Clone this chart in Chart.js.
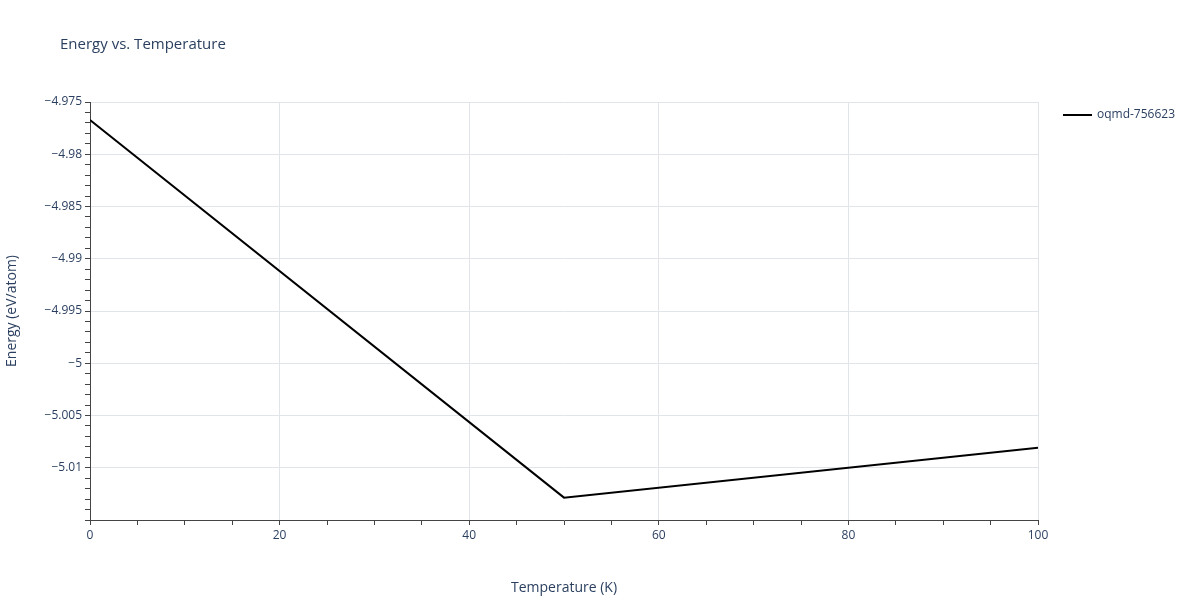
<!DOCTYPE html>
<html><head><meta charset="utf-8">
<script src="https://cdn.jsdelivr.net/npm/chart.js@4"></script>
<style>body{margin:0;background:#fff}#w{width:1200px;height:600px}</style></head>
<body><div id="w"><canvas id="c"></canvas></div>
<script>
const temperatures = [0, 50, 100];
const energies = [-4.97672, -5.01286, -5.00808];
const seriesName = 'oqmd-756623';
const chartTitle = 'Energy vs. Temperature';
const yTickLabels = {'-4.975':'−4.975','-4.98':'−4.98','-4.985':'−4.985','-4.99':'−4.99','-4.995':'−4.995','-5':'−5','-5.005':'−5.005','-5.01':'−5.01'};
const font = {family:'"Open Sans", sans-serif', size:12};
Chart.defaults.font = font;
Chart.defaults.color = '#2a3f5f';
const deco = {id:'deco', afterDraw(ch){
  const c=ch.ctx; c.save();
  c.fillStyle='#2a3f5f'; c.textBaseline='middle';
  c.font='15px "Open Sans", sans-serif'; c.fillText(chartTitle,60,45);
  c.strokeStyle='#000'; c.lineWidth=2; c.beginPath(); c.moveTo(1063,115); c.lineTo(1092,115); c.stroke();
  c.font='12px "Open Sans", sans-serif'; c.fillText(ch.data.datasets[0].label,1097,115);
  c.restore();
}};
new Chart(document.getElementById('c'), {
  type:'line',
  data:{datasets:[{label:seriesName, data:temperatures.map((t,i)=>({x:t,y:energies[i]})), borderColor:'#000', borderWidth:2, pointRadius:0, tension:0}]},
  plugins:[deco],
  options:{
    responsive:true, maintainAspectRatio:false, animation:false,
    layout:{padding:{top:102,right:162,bottom:0,left:0}},
    plugins:{title:{display:false},legend:{display:false},tooltip:{enabled:false}},
    scales:{
      x:{type:'linear',min:0,max:100,afterFit:a=>{a.height=80;},
        title:{display:true,text:'Temperature (K)',font:{...font,size:14},color:'#2a3f5f',padding:{top:8}},
        ticks:{stepSize:5,autoSkip:false,maxRotation:0,callback:v=>v%20===0?String(v):''},
        grid:{color:c=>c.tick&&c.tick.value%20===0&&c.tick.value!==0?'#e1e5ea':'rgba(0,0,0,0)',tickColor:'#444',tickLength:5},
        border:{color:'#444',width:1}},
      y:{type:'linear',min:-5.015,max:-4.975,afterFit:a=>{a.width=90;},
        title:{display:true,text:'Energy (eV/atom)',font:{...font,size:14},color:'#2a3f5f'},
        afterBuildTicks:a=>{const t=[];for(let i=0;i<=40;i++)t.push({value:+(-5.015+i*0.001).toFixed(3)});a.ticks=t;},
        ticks:{autoSkip:false,callback:v=>yTickLabels[String(+v.toFixed(3))]||''},
        grid:{color:c=>c.tick&&yTickLabels[String(+c.tick.value.toFixed(3))]?'#e1e5ea':'rgba(0,0,0,0)',tickColor:'#444',tickLength:5},
        border:{color:'#444',width:1}}
    }
  }
});
</script></body></html>
